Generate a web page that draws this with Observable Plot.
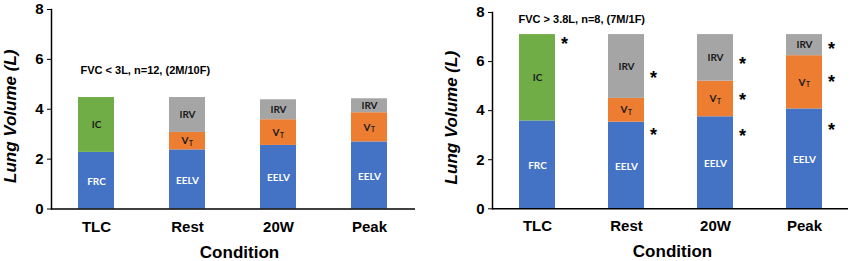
<!DOCTYPE html>
<html>
<head>
<meta charset="utf-8">
<script src="https://cdn.jsdelivr.net/npm/d3@7"></script>
<script src="https://cdn.jsdelivr.net/npm/@observablehq/plot@0.6"></script>
<style>
  html, body { margin: 0; padding: 0; background: #fff; }
  #wrap { display: flex; flex-direction: row; width: 856px; height: 261px; }
  #wrap svg { display: block; }
</style>
</head>
<body>
<div id="wrap"></div>
<script>
// ---------- data ----------
const conditions = ["TLC", "Rest", "20W", "Peak"];
const yTicks = [0, 2, 4, 6, 8];

// Left panel: FVC < 3L
const leftTitle = "FVC < 3L, n=12, (2M/10F)";
const leftBase = [2.27, 2.37, 2.55, 2.69];   // FRC (TLC) / EELV
const leftVT   = [null, 0.70, 1.03, 1.17];
const leftIRV  = [null, 1.40, 0.80, 0.56];
const leftIC   = [2.20, null, null, null];
const leftStarCond = [];
const leftStarY = [];

// Right panel: FVC > 3.8L
const rightTitle = "FVC > 3.8L, n=8, (7M/1F)";
const rightBase = [3.58, 3.53, 3.75, 4.07];
const rightVT   = [null, 0.97, 1.45, 2.17];
const rightIRV  = [null, 2.60, 1.90, 0.86];
const rightIC   = [3.52, null, null, null];
const rightStarCond = ["TLC", "Rest", "Rest", "20W", "20W", "20W", "Peak", "Peak", "Peak"];
const rightStarY    = [6.90, 5.52, 3.19, 6.08, 4.62, 3.15, 6.68, 5.36, 3.40];

const componentKeys = ["FRC", "EELV", "VT", "IRV", "IC"];
const componentColors = ["#4472C4", "#4472C4", "#ED7D31", "#A5A5A5", "#70AD47"];

// ---------- helpers ----------
function buildRows(base, vt, irv, ic) {
  const rows = [];
  conditions.forEach((c, i) => {
    rows.push({cond: c, key: c === "TLC" ? "FRC" : "EELV", value: base[i]});
    if (vt[i] != null) rows.push({cond: c, key: "VT", value: vt[i]});
    if (irv[i] != null) rows.push({cond: c, key: "IRV", value: irv[i]});
    if (ic[i] != null) rows.push({cond: c, key: "IC", value: ic[i]});
  });
  return rows;
}

function panel(opts) {
  const rows = buildRows(opts.base, opts.vt, opts.irv, opts.ic);
  const stars = opts.starCond.map((c, i) => ({cond: c, y: opts.starY[i]}));
  const segFont = "Lato, 'Open Sans', sans-serif";
  return Plot.plot({
    width: opts.width,
    height: 261,
    marginLeft: opts.marginLeft,
    marginRight: opts.marginRight,
    marginTop: opts.marginTop,
    marginBottom: opts.marginBottom,
    style: {fontFamily: "'Liberation Sans', Arial, sans-serif", color: "#000", background: "#fff"},
    x: {domain: conditions, type: "band", paddingInner: 0.6, paddingOuter: 0.3},
    y: {domain: [0, 8]},
    color: {domain: componentKeys, range: componentColors},
    marks: [
      Plot.barY(rows, {x: "cond", y: "value", fill: "key"}),
      // white labels (FRC / EELV)
      Plot.text(rows, Plot.stackY({x: "cond", y: "value",
        text: d => (d.key === "FRC" || d.key === "EELV") ? d.key : null,
        fill: "white", fontSize: 10, fontWeight: "bold", fontFamily: segFont, dy: 1})),
      // dark labels (IRV / IC)
      Plot.text(rows, Plot.stackY({x: "cond", y: "value",
        text: d => (d.key === "IRV" || d.key === "IC") ? d.key : null,
        fill: "#1a1a1a", fontSize: 10, fontWeight: "bold", fontFamily: segFont})),
      // V_T label : "V" + subscript "T"
      Plot.text(rows, Plot.stackY({x: "cond", y: "value",
        text: d => d.key === "VT" ? "V" : null,
        fill: "#1a1a1a", fontSize: 10, fontWeight: "bold", fontFamily: segFont, dx: -2.5})),
      Plot.text(rows, Plot.stackY({x: "cond", y: "value",
        text: d => d.key === "VT" ? "T" : null,
        fill: "#1a1a1a", fontSize: 6.5, fontWeight: "bold", fontFamily: segFont, dx: 3.5, dy: 3})),
      // significance asterisks
      Plot.text(stars, {x: "cond", y: "y", text: d => "*", dx: 27, dy: 4.5,
        fontSize: 18, fontWeight: "bold", fill: "#000"}),
      // axes
      Plot.ruleY([0], {stroke: "#000", strokeWidth: 1.6}),
      Plot.frame({anchor: "left", stroke: "#000", strokeWidth: 1.5}),
      Plot.axisY({ticks: yTicks, tickFormat: d => String(d), tickSize: 4, tickPadding: 4,
        label: null, fontSize: 15, fontWeight: "bold", stroke: "#000", fill: "#000"}),
      Plot.axisX({tickSize: 0, tickPadding: 12, label: null, fontSize: 15, fontWeight: "bold", fill: "#000"}),
      // axis titles
      Plot.text(["Lung Volume (L)"], {text: d => d, frameAnchor: "left", rotate: -90,
        dx: -40.5, dy: 7, textAnchor: "middle", lineAnchor: "middle",
        fontSize: 17, fontWeight: "bold", fontStyle: "italic", fill: "#000"}),
      Plot.text(["Condition"], {text: d => d, frameAnchor: "bottom", dx: opts.condDx, dy: 36.5,
        textAnchor: "middle", lineAnchor: "top", fontSize: 17, fontWeight: "bold", fill: "#000"}),
      // panel title
      Plot.text([opts.title], {text: d => d, frameAnchor: "top-left", dx: opts.titleDx, dy: opts.titleDy,
        textAnchor: "start", lineAnchor: "middle", fontSize: 11, fontWeight: "bold", fill: "#000"})
    ]
  });
}

const wrap = document.getElementById("wrap");
wrap.appendChild(panel({
  base: leftBase, vt: leftVT, irv: leftIRV, ic: leftIC,
  starCond: leftStarCond, starY: leftStarY, title: leftTitle,
  width: 430, marginLeft: 51, marginRight: 15, marginTop: 9, marginBottom: 52.5,
  titleDx: 29, titleDy: 61, condDx: 6
}));
wrap.appendChild(panel({
  base: rightBase, vt: rightVT, irv: rightIRV, ic: rightIC,
  starCond: rightStarCond, starY: rightStarY, title: rightTitle,
  width: 426, marginLeft: 62, marginRight: 8, marginTop: 12, marginBottom: 52.7,
  titleDx: 26, titleDy: 7, condDx: 2
}));
</script>
</body>
</html>
